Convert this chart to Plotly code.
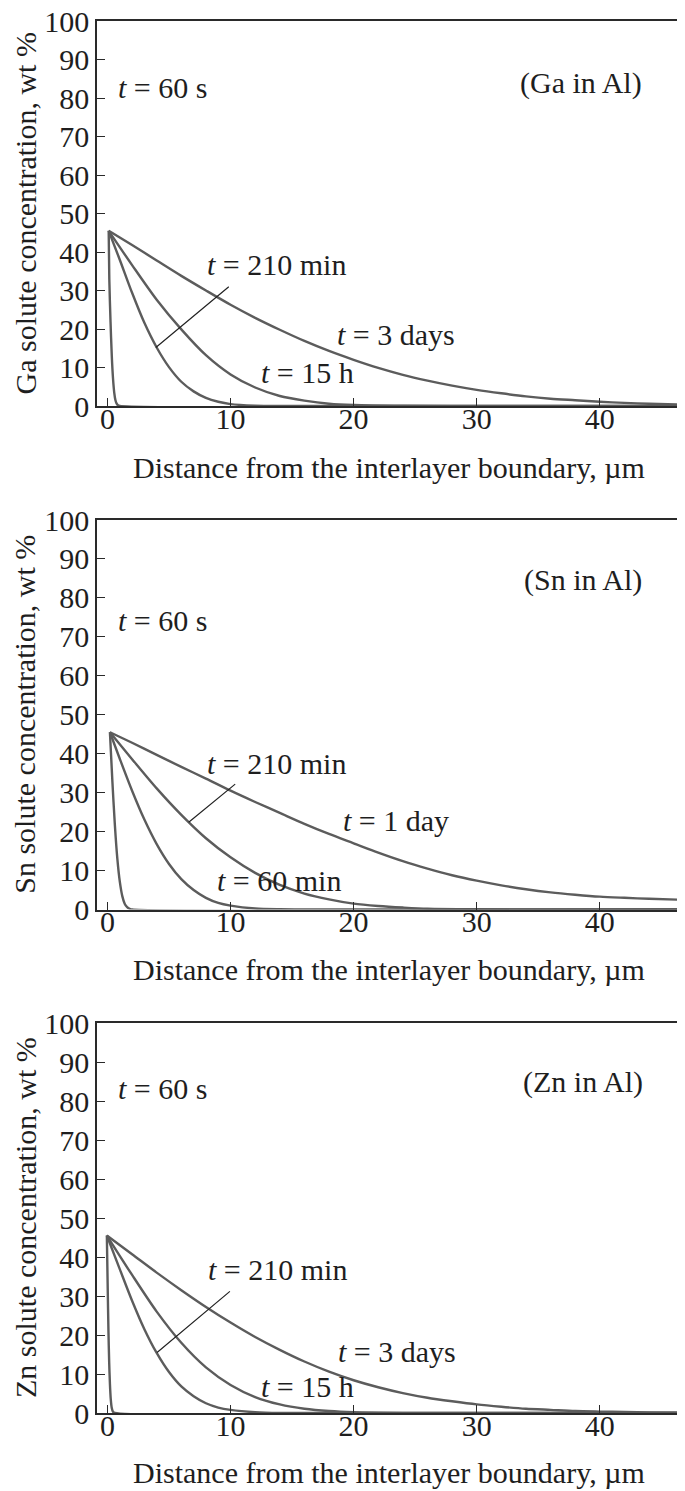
import plotly.graph_objects as go

# ---------------- data ----------------
# Panel 1: Ga in Al
ga_60s_x = [0.1, 0.15, 0.25, 0.35, 0.45, 0.55, 0.65, 0.75, 0.85, 1.0, 46.6]
ga_60s_y = [45.5, 32.9, 21.8, 13.1, 7.2, 3.5, 1.5, 0.6, 0.2, 0.0, 0.0]
ga_210m_x = [0.1, 1, 2, 3, 4, 5, 6, 7, 8, 9, 10, 12, 14, 46.6]
ga_210m_y = [45.5, 38.0, 29.4, 21.6, 15.2, 10.1, 6.3, 3.8, 2.1, 1.1, 0.5, 0.1, 0.0, 0.0]
ga_15h_x = [0.1, 2, 4, 6, 8, 10, 12, 14, 16, 18, 20, 24, 30, 46.6]
ga_15h_y = [45.5, 36.6, 27.6, 19.9, 13.2, 8.2, 4.8, 2.6, 1.4, 0.6, 0.25, 0.05, 0.0, 0.0]
ga_3d_x = [0.1, 2, 4, 6, 8, 10, 12, 14, 16, 18, 20, 22, 24, 26, 28, 30, 32, 34, 36, 38, 40, 42, 44, 46.6]
ga_3d_y = [45.5, 41.8, 37.8, 33.8, 30.0, 26.3, 22.9, 19.8, 16.9, 14.3, 12.0, 9.9, 8.1, 6.6, 5.3, 4.2,
           3.3, 2.5, 1.9, 1.5, 1.1, 0.8, 0.6, 0.4]

# Panel 2: Sn in Al
sn_60s_x = [0.2, 0.4, 0.6, 0.8, 1.0, 1.2, 1.4, 1.6, 1.8, 2.0, 46.6]
sn_60s_y = [45.5, 32.9, 21.8, 13.1, 7.2, 3.5, 1.5, 0.6, 0.2, 0.0, 0.0]
sn_60m_x = [0.2, 1, 2, 3, 4, 5, 6, 7, 8, 9, 10, 12, 14, 16, 46.6]
sn_60m_y = [45.5, 38.7, 30.5, 23.1, 16.8, 11.7, 7.8, 5.0, 3.0, 1.7, 1.0, 0.25, 0.05, 0.0, 0.0]
sn_210m_x = [0.2, 2, 4, 6, 8, 10, 12, 14, 16, 18, 20, 22, 24, 26, 30, 34, 46.6]
sn_210m_y = [45.5, 38.6, 31.1, 24.3, 18.3, 13.4, 9.4, 6.3, 4.1, 2.6, 1.5, 0.9, 0.5, 0.2, 0.05, 0.0, 0.0]
sn_1d_x = [0.2, 2, 4, 6, 8, 10, 12, 14, 16, 18, 20, 22, 24, 26, 28, 30, 32, 34, 36, 38, 40, 42, 44, 46.6]
sn_1d_y = [45.5, 42.8, 39.7, 36.6, 33.6, 30.5, 27.6, 24.8, 22.0, 19.4, 17.0, 14.6, 12.4, 10.5, 8.8, 7.4,
           6.2, 5.2, 4.4, 3.8, 3.3, 3.0, 2.75, 2.5]

# Panel 3: Zn in Al
zn_60s_x = [-0.05, 0.02, 0.08, 0.14, 0.2, 0.27, 0.35, 0.45, 0.6, 46.6]
zn_60s_y = [45.5, 32.0, 21.0, 13.0, 7.5, 3.5, 1.3, 0.3, 0.0, 0.0]
zn_210m_x = [-0.05, 1, 2, 3, 4, 5, 6, 7, 8, 9, 10, 12, 14, 46.6]
zn_210m_y = [45.5, 36.9, 28.8, 21.5, 15.4, 10.5, 6.8, 4.3, 2.5, 1.4, 0.8, 0.2, 0.0, 0.0]
zn_15h_x = [-0.05, 2, 4, 6, 8, 10, 12, 14, 16, 18, 20, 24, 28, 46.6]
zn_15h_y = [45.5, 35.4, 26.0, 18.0, 11.7, 7.2, 4.1, 2.2, 1.1, 0.5, 0.2, 0.03, 0.0, 0.0]
zn_3d_x = [-0.05, 2, 4, 6, 8, 10, 12, 14, 16, 18, 20, 22, 24, 26, 28, 30, 32, 34, 36, 38, 40, 42, 44, 46.6]
zn_3d_y = [45.5, 40.7, 36.0, 31.5, 27.2, 23.2, 19.5, 16.2, 13.2, 10.6, 8.4, 6.6, 5.1, 3.9, 3.0, 2.2,
           1.6, 1.1, 0.8, 0.5, 0.36, 0.25, 0.15, 0.1]

x_ticks = [0, 10, 20, 30, 40]
y_ticks = [0, 10, 20, 30, 40, 50, 60, 70, 80, 90, 100]
x_title = "Distance from the interlayer boundary, µm"
y_titles = ["Ga solute concentration, wt %", "Sn solute concentration, wt %", "Zn solute concentration, wt %"]
system_labels = ["(Ga in Al)", "(Sn in Al)", "(Zn in Al)"]

# curve labels per panel: (text, x, y)
panel_labels = [
    [("<i>t</i> = 60 s", 0.73, 82.8), ("<i>t</i> = 210 min", 7.96, 36.7),
     ("<i>t</i> = 3 days", 18.5, 18.7), ("<i>t</i> = 15 h", 12.3, 8.7)],
    [("<i>t</i> = 60 s", 0.73, 74.3), ("<i>t</i> = 210 min", 7.96, 37.5),
     ("<i>t</i> = 1 day", 19.0, 22.9), ("<i>t</i> = 60 min", 8.7, 7.5)],
    [("<i>t</i> = 60 s", 0.73, 83.3), ("<i>t</i> = 210 min", 7.97, 36.7),
     ("<i>t</i> = 3 days", 18.6, 15.7), ("<i>t</i> = 15 h", 12.3, 6.7)],
]
system_pos = [(38.5, 84.0), (38.6, 84.6), (38.6, 84.9)]
leaders = [((3.93, 15.2), (9.98, 31.3)), ((6.6, 22.4), (10.5, 32.5)), ((4.03, 15.5), (10.07, 31.5))]

panels = [
    [(ga_60s_x, ga_60s_y), (ga_210m_x, ga_210m_y), (ga_15h_x, ga_15h_y), (ga_3d_x, ga_3d_y)],
    [(sn_60s_x, sn_60s_y), (sn_60m_x, sn_60m_y), (sn_210m_x, sn_210m_y), (sn_1d_x, sn_1d_y)],
    [(zn_60s_x, zn_60s_y), (zn_210m_x, zn_210m_y), (zn_15h_x, zn_15h_y), (zn_3d_x, zn_3d_y)],
]

# ---------------- figure ----------------
W, H = 685, 1491
OFF = 8  # page body margin offset of the plot div
ML, MR = 97 - OFF, 4 + OFF
PW = W - ML - MR
FONT = "Liberation Serif, Times New Roman, serif"
FS = 30
TXT = "#1e1e1e"
CURVE = "#5c5c5c"
AXC = "#2a2a2a"

# plot boxes in page pixels (top, bottom), converted to figure coordinates
boxes = [(21, 406), (520, 909.5), (1023, 1413)]
domains = [[1 - (b - OFF) / H, 1 - (t - OFF) / H] for (t, b) in boxes]
xtitle_page_y = [468, 969, 1472]   # centre of x-axis titles (page px)
ytitle_page_x = 25                 # centre of y-axis titles (page px)

fig = go.Figure()
annotations = []
for i, curves in enumerate(panels):
    sfx = "" if i == 0 else str(i + 1)
    for (xs, ys) in curves:
        fig.add_trace(go.Scatter(x=xs, y=ys, mode="lines", xaxis="x" + sfx, yaxis="y" + sfx,
                                 line=dict(color=CURVE, width=2.4, shape="spline", smoothing=0.8),
                                 showlegend=False, hoverinfo="skip"))
    for (t, x, y) in panel_labels[i]:
        annotations.append(dict(text=t, x=x, y=y, xref="x" + sfx, yref="y" + sfx, showarrow=False,
                                xanchor="left", yanchor="middle", font=dict(family=FONT, size=FS, color=TXT)))
    sx, sy = system_pos[i]
    annotations.append(dict(text=system_labels[i], x=sx, y=sy, xref="x" + sfx, yref="y" + sfx, showarrow=False,
                            xanchor="center", yanchor="middle", font=dict(family=FONT, size=FS, color=TXT)))
    (x0, y0), (x1, y1) = leaders[i]
    annotations.append(dict(text="", x=x0, y=y0, ax=x1, ay=y1, xref="x" + sfx, yref="y" + sfx,
                            axref="x" + sfx, ayref="y" + sfx, showarrow=True, arrowhead=0,
                            arrowwidth=1.2, arrowcolor="#222222", standoff=0, startstandoff=0))
    # axis titles
    annotations.append(dict(text=x_title, xref="paper", yref="paper", x=0.5,
                            y=1 - (xtitle_page_y[i] - OFF) / H, xanchor="center", yanchor="middle",
                            showarrow=False, font=dict(family=FONT, size=FS, color=TXT)))
    annotations.append(dict(text=y_titles[i], xref="paper", yref="paper",
                            x=((ytitle_page_x - OFF) - ML) / PW, y=sum(domains[i]) / 2,
                            xanchor="center", yanchor="middle", textangle=-90, borderpad=0,
                            showarrow=False, font=dict(family=FONT, size=FS, color=TXT)))

    xa = dict(domain=[0, 1], range=[-0.85, 46.6], tickmode="array", tickvals=x_ticks,
              ticks="inside", ticklen=8, tickwidth=1.3, tickcolor=AXC, automargin=False,
              showline=True, linecolor=AXC, linewidth=1.6, mirror=True, showgrid=False, zeroline=False,
              tickfont=dict(family=FONT, size=FS, color=TXT), ticklabelstandoff=-15,
              ticklabeloverflow="allow", anchor="y" + sfx)
    ya = dict(domain=domains[i], range=[0, 100], tickmode="array", tickvals=y_ticks,
              ticks="inside", ticklen=8, tickwidth=1.3, tickcolor=AXC, automargin=False,
              showline=True, linecolor=AXC, linewidth=1.6, mirror=True, showgrid=False, zeroline=False,
              tickfont=dict(family=FONT, size=FS, color=TXT), ticklabeloverflow="allow",
              anchor="x" + sfx)
    fig.layout["xaxis" + sfx] = xa
    fig.layout["yaxis" + sfx] = ya

fig.update_layout(width=W, height=H, margin=dict(l=ML, r=MR, t=0, b=0, autoexpand=False),
                  paper_bgcolor="white", plot_bgcolor="white", annotations=annotations,
                  showlegend=False)
fig.write_html("out.html")
